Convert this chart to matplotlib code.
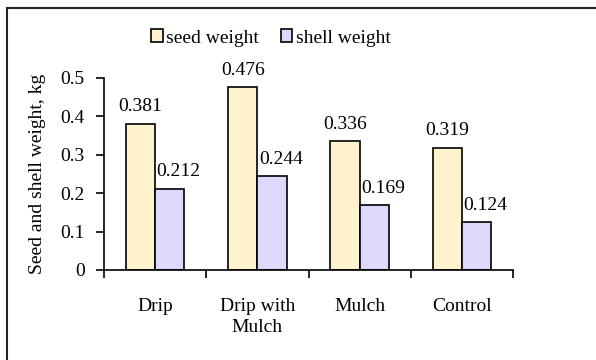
import matplotlib
matplotlib.use("Agg")
import matplotlib.pyplot as plt
from matplotlib.patches import Rectangle
import numpy as np

# Data
categories = ["Drip", "Drip with\nMulch", "Mulch", "Control"]
seed_weight = [0.381, 0.476, 0.336, 0.319]
shell_weight = [0.212, 0.244, 0.169, 0.124]
series_names = ["seed weight", "shell weight"]
y_ticks = [0, 0.1, 0.2, 0.3, 0.4, 0.5]

plt.rcParams["font.family"] = ["Liberation Serif", "DejaVu Serif"]
FS = 14

W, H = 596, 360
fig = plt.figure(figsize=(W / 100, H / 100), dpi=100)
ax = fig.add_axes([104 / W, 1 - 270 / H, (513 - 104) / W, (270 - 78) / H])

# Outer chart frame (right/bottom edges fall outside the canvas)
fig.patches.append(Rectangle((7.5 / W, -0.2), 1.2, 1 - 7.5 / H + 0.2,
                             transform=fig.transFigure, fill=False,
                             edgecolor="#222222", linewidth=1.5, clip_on=False))

x = np.arange(len(categories))
w = 2 / 7
seed_color = "#FFF2CC"
shell_color = "#DCD9FB"

b1 = ax.bar(x - w / 2, seed_weight, w, color=seed_color, edgecolor="black",
            linewidth=1.2, label=series_names[0])
b2 = ax.bar(x + w / 2, shell_weight, w, color=shell_color, edgecolor="black",
            linewidth=1.2, label=series_names[1])

for xi, v in zip(x - w / 2, seed_weight):
    ax.annotate(f"{v:.3f}", (xi, v), xytext=(0, 6), textcoords="offset points",
                ha="center", va="bottom", fontsize=FS)
for xi, v in zip(x + w / 2, shell_weight):
    ax.annotate(f"{v:.3f}", (xi, v), xytext=(6.5, 6), textcoords="offset points",
                ha="center", va="bottom", fontsize=FS)

ax.set_xlim(-0.5, len(categories) - 0.5)
ax.set_ylim(0, 0.5)
ax.set_yticks(y_ticks)
ax.set_yticklabels([f"{t:g}" for t in y_ticks], fontsize=FS)
ax.set_xticks(np.arange(len(categories) + 1) - 0.5)
ax.set_xticklabels([])
ax.set_xticks(x, minor=True)
ax.set_xticklabels(categories, minor=True, fontsize=FS, linespacing=1.3)
ax.tick_params(axis="x", which="minor", length=0, pad=20)
ax.tick_params(axis="x", which="major", direction="out", length=6, width=1.2)
ax.tick_params(axis="y", direction="out", length=6, width=1.2, pad=8)

for s in ["top", "right"]:
    ax.spines[s].set_visible(False)
for s in ["left", "bottom"]:
    ax.spines[s].set_linewidth(1.2)

ax.set_ylabel("Seed and shell weight, kg", fontsize=FS, labelpad=10)

leg = fig.legend(handles=[b1, b2], loc="center", bbox_to_anchor=(271 / W, 1 - 38 / H),
                 ncol=2, frameon=False, fontsize=FS, handlelength=0.6,
                 handleheight=0.6, handletextpad=0.2, columnspacing=1.1)

fig.savefig("out.png", dpi=100)
